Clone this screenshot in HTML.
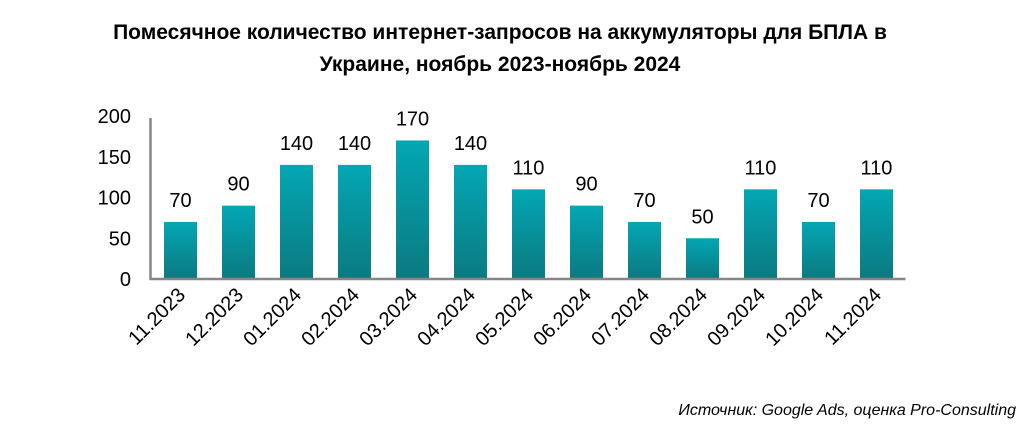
<!DOCTYPE html>
<html><head><meta charset="utf-8">
<style>
body{margin:0;background:#fff;width:1029px;height:437px;overflow:hidden;font-family:"Liberation Sans",Arial,sans-serif}
svg text{font-family:"Liberation Sans",Arial,sans-serif}
</style></head>
<body>
<svg width="1029" height="437">
<defs><linearGradient id="g" x1="0" y1="0" x2="0" y2="1"><stop offset="0" stop-color="#03a7b4"/><stop offset="1" stop-color="#0b7a80"/></linearGradient></defs>
<text x="500" y="39" text-anchor="middle" font-size="21" font-weight="bold">Помесячное количество интернет-запросов на аккумуляторы для БПЛА в</text>
<text x="500" y="71" text-anchor="middle" font-size="21" font-weight="bold">Украине, ноябрь 2023-ноябрь 2024</text>
<g id="plot"></g>
<text x="1016" y="415" text-anchor="end" font-size="16" font-style="italic">Источник: Google Ads, оценка Pro-Consulting</text>
</svg>
<script>
const categories=["11.2023","12.2023","01.2024","02.2024","03.2024","04.2024","05.2024","06.2024","07.2024","08.2024","09.2024","10.2024","11.2024"];
const values=[70,90,140,140,170,140,110,90,70,50,110,70,110];
const yTicks=[0,50,100,150,200];
const ns="http://www.w3.org/2000/svg";
const g=document.getElementById('plot');
const x0=151.5,band=58,y0=279,yMax=200,yTop=116;
const y=v=>y0-(v/yMax)*(y0-yTop);
const xc=i=>x0+band*(i+0.5);
function mk(t,a){const e=document.createElementNS(ns,t);for(const k in a)e.setAttribute(k,a[k]);g.appendChild(e);return e;}
yTicks.forEach(t=>{const e=mk('text',{x:131,y:y(t)+7,'text-anchor':'end','font-size':20});e.textContent=t;

});
values.forEach((v,i)=>{
const r=mk('rect',{x:xc(i)-16.5,y:y(v),width:33,height:y0-y(v),fill:'url(#g)'});


const l=mk('text',{x:xc(i),y:y(v)-15,'text-anchor':'middle','font-size':20});l.textContent=v;


const c=mk('text',{x:xc(i)+6,y:296,'text-anchor':'end','font-size':20,transform:`rotate(-45 ${xc(i)+6} 296)`});c.textContent=categories[i];


});
const ax=mk('path',{d:`M${x0-1} ${yTop+2}V${y0}H${x0+band*13}`,stroke:'#868686','stroke-width':2.5,fill:'none'});


</script>
</body></html>
